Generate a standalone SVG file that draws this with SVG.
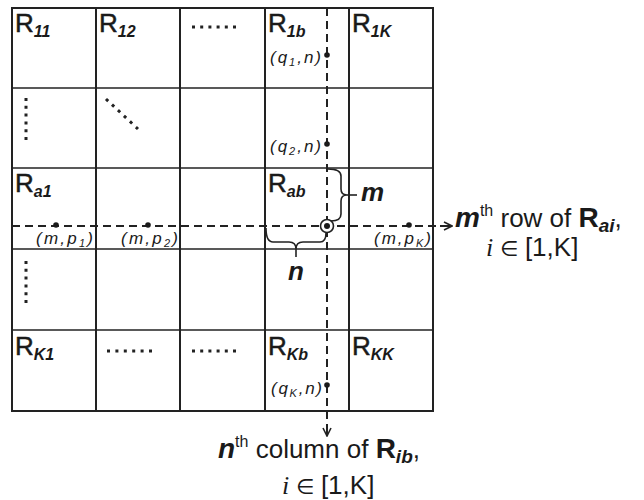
<svg xmlns="http://www.w3.org/2000/svg" width="644" height="500" viewBox="0 0 644 500">
<style>
text{font-family:"Liberation Sans",Arial,sans-serif;fill:#1a1a1a}
.R{font-size:26px;stroke:#1a1a1a;stroke-width:0.5}
.sub{font-size:16px;font-weight:bold;font-style:italic;stroke:none}
.co{font-size:17px;font-style:italic}
.cs{font-size:11px}
.bi{font-weight:bold;font-style:italic}
.grid{fill:none;stroke:#222;stroke-width:2}
.gv{stroke:#222;stroke-width:2}
.gh{stroke:#222;stroke-width:1.5}
.dash{stroke:#222;stroke-width:2;stroke-dasharray:8 5;fill:none}
.solid{stroke:#222;stroke-width:2;fill:none}
.dots{stroke:#222;stroke-width:3;fill:none}
.brace{stroke:#222;stroke-width:1.6;fill:none}
.pt{fill:#1a1a1a}
.lbl{font-size:26px}
</style>
<defs>
<marker id="arr" viewBox="0 0 10 10" refX="9" refY="5" markerWidth="10" markerHeight="10" markerUnits="userSpaceOnUse" orient="auto">
<path d="M1,1 L9,5 L1,9" fill="none" stroke="#222" stroke-width="1.6" stroke-dasharray="none"/>
</marker>
</defs>

<g id="grid">
<rect class="grid" x="12" y="8" width="421" height="403"/>
<line class="gv" x1="96" y1="8" x2="96" y2="411"/>
<line class="gv" x1="180" y1="8" x2="180" y2="411"/>
<line class="gv" x1="265" y1="8" x2="265" y2="411"/>
<line class="gv" x1="349" y1="8" x2="349" y2="411"/>
<line class="gh" x1="12" y1="88" x2="433" y2="88"/>
<line class="gh" x1="12" y1="168" x2="433" y2="168"/>
<line class="gh" x1="12" y1="249" x2="433" y2="249"/>
<line class="gh" x1="12" y1="330" x2="433" y2="330"/>
</g>

<g id="R11"><text class="R" x="15" y="32">R<tspan class="sub" dy="5">11</tspan></text></g>
<g id="R12"><text class="R" x="99" y="32">R<tspan class="sub" dy="5">12</tspan></text></g>
<g id="row1-dots"><line class="dots" x1="192" y1="27" x2="236" y2="27" stroke-dasharray="3 5.2"/></g>
<g id="R1b"><text class="R" x="268" y="32">R<tspan class="sub" dy="5">1b</tspan></text></g>
<g id="R1K"><text class="R" x="352" y="32">R<tspan class="sub" dy="5">1K</tspan></text></g>

<g id="row2-vdots"><line class="dots" x1="26" y1="98" x2="26" y2="140" stroke-dasharray="3 4.8"/></g>
<g id="row2-ddots"><line class="dots" x1="106" y1="99" x2="138" y2="129" stroke-dasharray="3 5.2"/></g>

<g id="Ra1"><text class="R" x="15" y="192">R<tspan class="sub" dy="5">a1</tspan></text></g>
<g id="Rab"><text class="R" x="268" y="192">R<tspan class="sub" dy="5">ab</tspan></text></g>

<g id="row4-vdots"><line class="dots" x1="26" y1="261" x2="26" y2="303" stroke-dasharray="3 4.8"/></g>

<g id="RK1"><text class="R" x="15" y="355">R<tspan class="sub" dy="5">K1</tspan></text></g>
<g id="row5-dots1"><line class="dots" x1="107" y1="351" x2="152" y2="351" stroke-dasharray="3 5.4"/></g>
<g id="row5-dots2"><line class="dots" x1="192" y1="351" x2="236" y2="351" stroke-dasharray="3 5.2"/></g>
<g id="RKb"><text class="R" x="268" y="355">R<tspan class="sub" dy="5">Kb</tspan></text></g>
<g id="RKK"><text class="R" x="352" y="355">R<tspan class="sub" dy="5">KK</tspan></text></g>

<g id="connectors">
<line class="dash" x1="327" y1="8" x2="327" y2="424"/>
<line class="solid" x1="327" y1="424" x2="327" y2="436" marker-end="url(#arr)"/>
<line class="dash" x1="12" y1="226" x2="440" y2="226"/>
<line class="solid" x1="440" y1="226" x2="452" y2="226" marker-end="url(#arr)"/>
<path class="brace" d="M328,169 Q341,169 341,176 L341,189 Q341,195 347,195 Q341,195 341,201 L341,214 Q341,221 331,221"/>
<line class="brace" x1="347" y1="195" x2="357" y2="195"/>
<path class="brace" d="M266,228 Q266,242 273,242 L289,242 Q296,242 296,249 Q296,242 303,242 L320,242 Q326,242 326,233"/>
<line class="brace" x1="296" y1="249" x2="296" y2="257"/>
</g>

<g id="pt-q1"><circle class="pt" cx="327" cy="55" r="2.8"/><text class="co" x="270" y="63" textLength="51">(q<tspan class="cs" dy="3">1</tspan><tspan dy="-3">,n)</tspan></text></g>
<g id="pt-q2"><circle class="pt" cx="327" cy="144" r="2.8"/><text class="co" x="270" y="152" textLength="51">(q<tspan class="cs" dy="3">2</tspan><tspan dy="-3">,n)</tspan></text></g>
<g id="pt-qK"><circle class="pt" cx="327" cy="385" r="2.8"/><text class="co" x="271" y="394" textLength="51">(q<tspan class="cs" dy="3">K</tspan><tspan dy="-3">,n)</tspan></text></g>
<g id="pt-p1"><circle class="pt" cx="56" cy="225" r="2.8"/><text class="co" x="36" y="244" textLength="57">(m,p<tspan class="cs" dy="3">1</tspan><tspan dy="-3">)</tspan></text></g>
<g id="pt-p2"><circle class="pt" cx="148" cy="225" r="2.8"/><text class="co" x="121" y="244" textLength="57">(m,p<tspan class="cs" dy="3">2</tspan><tspan dy="-3">)</tspan></text></g>
<g id="pt-pK"><circle class="pt" cx="409" cy="225" r="2.8"/><text class="co" x="374" y="244" textLength="57">(m,p<tspan class="cs" dy="3">K</tspan><tspan dy="-3">)</tspan></text></g>
<g id="pt-ab"><circle cx="327" cy="226" r="6.5" fill="#fff" stroke="#222" stroke-width="1.6"/><circle class="pt" cx="327" cy="226" r="3"/></g>

<g id="label-m"><text class="bi" x="361" y="201" font-size="26">m</text></g>
<g id="label-n"><text class="bi" x="296" y="280" font-size="26" text-anchor="middle">n</text></g>

<g id="row-label">
<text class="lbl" x="455" y="227"><tspan class="bi" font-size="28">m</tspan><tspan font-size="16" dy="-11">th</tspan><tspan dy="11"> row of </tspan><tspan font-weight="bold" font-size="28">R</tspan><tspan class="bi" font-size="19" dy="5">ai</tspan><tspan dy="-5">,</tspan></text>
<text class="lbl" x="486" y="256"><tspan font-family="'Liberation Serif',serif" font-style="italic">i</tspan><tspan font-family="'DejaVu Sans',sans-serif" font-size="21"> ∈ </tspan>[1,K]</text>
</g>
<g id="col-label">
<text class="lbl" x="218" y="458"><tspan class="bi" font-size="28">n</tspan><tspan font-size="16" dy="-11">th</tspan><tspan dy="11"> column of </tspan><tspan font-weight="bold" font-size="28">R</tspan><tspan class="bi" font-size="19" dy="5">ib</tspan><tspan dy="-5">,</tspan></text>
<text class="lbl" x="282" y="494"><tspan font-family="'Liberation Serif',serif" font-style="italic">i</tspan><tspan font-family="'DejaVu Sans',sans-serif" font-size="21"> ∈ </tspan>[1,K]</text>
</g>
</svg>
